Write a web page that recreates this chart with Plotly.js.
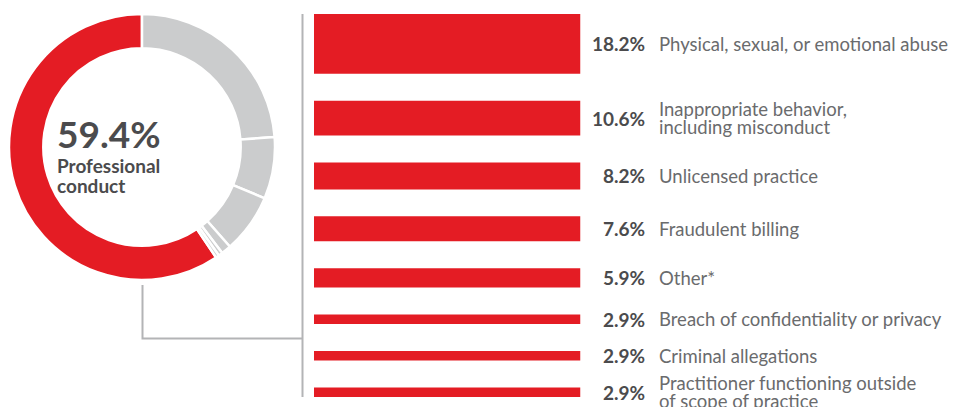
<!DOCTYPE html>
<html>
<head>
<meta charset="utf-8">
<script src="https://cdn.plot.ly/plotly-3.0.1.min.js"></script>
<style>
  html, body { margin: 0; padding: 0; background: #ffffff; }
  #chart { width: 957px; height: 407px; }
</style>
</head>
<body>
<div id="chart"></div>
<script>
// ---- Data ----
const donutLabels = ["Professional conduct", "Category B", "Category C", "Category D", "Category E", "Category F", "Category G"];
const donutValues = [59.4, 23.8, 7.5, 7.2, 1.2, 0.5, 0.4];
const centerLabel = ["Professional", "conduct"];

const barLabels = [
  ["Physical, sexual, or emotional abuse"],
  ["Inappropriate behavior,", "including misconduct"],
  ["Unlicensed practice"],
  ["Fraudulent billing"],
  ["Other*"],
  ["Breach of confidentiality or privacy"],
  ["Criminal allegations"],
  ["Practitioner functioning outside", "of scope of practice"]
];
const barValues = [18.2, 10.6, 8.2, 7.6, 5.9, 2.9, 2.9, 2.9];

// ---- Styles ----
const W = 957, H = 407;
const RED = "#e41c24";
const GREY = "#cbcccd";
const LINE = "#b3b4b6";
const DARK = "#4b4b4d";
const MID = "#6a6b6d";
const FONT = "Lato, 'Open Sans', sans-serif";
const gap = 8.2;        // spacing between bars, in value units
const lineStep = 18.5;  // px between wrapped label lines

// bar layout: thickness proportional to value, stacked with constant gap
const centers = [];
let cursor = 0;
barValues.forEach(v => { centers.push(cursor + v / 2); cursor += v + gap; });
const yBottom = cursor - gap;

const px = (x) => x / W;
const py = (y) => 1 - y / H;

const pieTrace = {
  type: "pie",
  labels: donutLabels,
  values: donutValues,
  hole: 0.742,
  sort: false,
  direction: "clockwise",
  rotation: (1 - donutValues[0] / donutValues.reduce((a, b) => a + b, 0)) * 360,
  marker: { colors: donutValues.map((v, i) => i === 0 ? RED : GREY), line: { color: "#ffffff", width: 2.5 } },
  textinfo: "none",
  hoverinfo: "label+percent",
  showlegend: false,
  domain: { x: [px(9), px(275)], y: [py(280), py(14)] }
};

const barTrace = {
  type: "bar",
  orientation: "h",
  x: barValues.map(() => 1),
  y: centers,
  width: barValues,
  base: 0,
  marker: { color: RED },
  hovertext: barLabels.map((l, i) => barValues[i] + "% " + l.join(" ")),
  hoverinfo: "text",
  showlegend: false,
  xaxis: "x",
  yaxis: "y"
};

const annotations = [];
barValues.forEach((v, i) => {
  annotations.push({
    xref: "paper", yref: "y", x: px(647), y: centers[i],
    xanchor: "right", yanchor: "middle", showarrow: false,
    text: "<b>" + v.toFixed(1) + "%</b>",
    font: { family: FONT, size: 19, color: DARK }
  });
  const lines = barLabels[i];
  lines.forEach((ln, k) => {
    annotations.push({
      xref: "paper", yref: "y", x: px(657), y: centers[i],
      yshift: -((k - (lines.length - 1) / 2) * lineStep),
      xanchor: "left", yanchor: "middle", align: "left", showarrow: false,
      text: ln,
      font: { family: FONT, size: 18.5, color: MID }
    });
  });
});
annotations.push({
  xref: "paper", yref: "paper", x: px(55), y: py(134),
  xanchor: "left", yanchor: "middle", showarrow: false,
  text: "<b>" + donutValues[0].toFixed(1) + "%</b>",
  font: { family: FONT, size: 37, color: DARK }
});
centerLabel.forEach((ln, k) => {
  annotations.push({
    xref: "paper", yref: "paper", x: px(55), y: py(165 + k * 20),
    xanchor: "left", yanchor: "middle", align: "left", showarrow: false,
    text: "<b>" + ln + "</b>",
    font: { family: FONT, size: 19, color: DARK }
  });
});

const layout = {
  width: W, height: H,
  margin: { l: 0, r: 0, t: 0, b: 0 },
  paper_bgcolor: "#ffffff",
  plot_bgcolor: "#ffffff",
  xaxis: { domain: [px(314), px(580.5)], range: [0, 1], visible: false, fixedrange: true },
  yaxis: { domain: [py(397), py(14)], range: [yBottom, 0], visible: false, fixedrange: true },
  annotations: annotations,
  shapes: [
    { type: "line", xref: "paper", yref: "paper", x0: px(302.5), x1: px(302.5), y0: py(14), y1: py(397), line: { color: LINE, width: 2 } },
    { type: "path", xref: "paper", yref: "paper",
      path: `M ${px(142.5)} ${py(285)} L ${px(142.5)} ${py(338.5)} L ${px(302.5)} ${py(338.5)}`,
      line: { color: LINE, width: 2 } }
  ],
  font: { family: FONT }
};

Plotly.newPlot("chart", [pieTrace, barTrace], layout, { displayModeBar: false });
</script>
</body>
</html>
